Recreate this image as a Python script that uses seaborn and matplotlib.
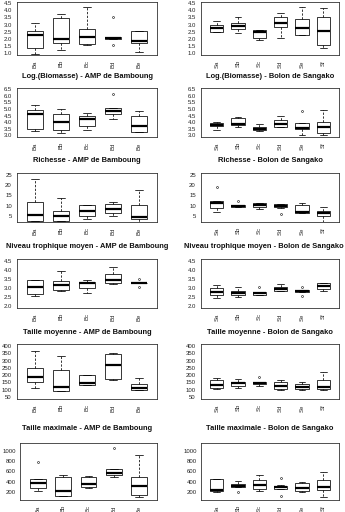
import matplotlib
matplotlib.use("Agg")
import matplotlib.pyplot as plt
import seaborn as sns
import pandas as pd
import numpy as np

sns.set_style("white")
plt.rcParams["font.family"] = ["Liberation Sans", "DejaVu Sans"]

groups_bamboung = ["Ba", "Bb", "Bc", "Bd", "Be"]
groups_sangako = ["Sa", "Sb", "Sc", "Sd", "Se", "Sf"]

# Five-number summaries per group: (low whisker, Q1, median, Q3, high whisker)
biomasse_bamboung = [[0.95, 1.38, 2.25, 2.55, 3.1], [1.25, 1.7, 2.0, 3.45, 3.75],
                     [1.55, 1.62, 2.15, 2.7, 4.2], [2.0, 2.02, 2.07, 2.12, 2.15],
                     [1.1, 1.7, 1.87, 2.55, 2.55]]
biomasse_bamboung_out = {"Bd": [1.6, 3.55]}
biomasse_sangako = [[2.5, 2.52, 2.75, 2.95, 3.25], [2.42, 2.7, 2.88, 3.12, 3.55],
                    [1.92, 2.08, 2.48, 2.6, 2.65], [2.05, 2.8, 3.1, 3.5, 3.8],
                    [2.25, 2.3, 2.78, 3.4, 4.2], [1.4, 1.6, 2.55, 3.5, 4.15]]
biomasse_sangako_out = {}

richesse_bamboung = [[3.3, 3.45, 4.6, 4.92, 5.3], [3.15, 3.4, 4.02, 4.62, 5.0],
                     [3.4, 3.7, 4.25, 4.45, 4.7], [4.22, 4.65, 4.85, 5.07, 5.07],
                     [3.25, 3.25, 3.7, 4.47, 4.82]]
richesse_bamboung_out = {"Bd": [6.15]}
richesse_sangako = [[3.42, 3.72, 3.8, 3.95, 4.02], [3.65, 3.78, 3.85, 4.35, 4.4],
                    [3.35, 3.42, 3.5, 3.67, 3.85], [3.65, 3.65, 3.87, 4.18, 4.45],
                    [3.0, 3.45, 3.6, 3.95, 3.95], [3.05, 3.15, 3.65, 4.03, 4.9]]
richesse_sangako_out = {"Se": [4.85]}

trophique_bamboung = [[2.5, 2.6, 5.5, 12.0, 23.0], [2.5, 2.6, 5.0, 7.3, 14.0],
                      [3.5, 5.2, 7.3, 10.5, 10.5], [5.0, 6.3, 8.5, 11.0, 12.0],
                      [1.8, 3.5, 4.5, 10.2, 17.5]]
trophique_bamboung_out = {}
trophique_sangako = [[7.0, 9.0, 11.2, 12.3, 12.3], [9.3, 9.4, 9.8, 10.4, 10.4],
                     [8.6, 9.2, 10.3, 11.3, 11.5], [9.0, 9.2, 10.0, 10.7, 10.7],
                     [6.3, 6.5, 7.2, 10.3, 11.2], [2.0, 5.0, 6.5, 7.3, 9.3]]
trophique_sangako_out = {"Sa": [19.0], "Sb": [12.3], "Sd": [6.0]}

tmoy_bamboung = [[2.58, 2.68, 3.08, 3.43, 3.47], [2.85, 2.87, 3.17, 3.4, 3.95],
                 [2.75, 3.0, 3.28, 3.32, 3.42], [3.22, 3.27, 3.42, 3.77, 4.15],
                 [3.3, 3.3, 3.3, 3.3, 3.3]]
tmoy_bamboung_out = {"Be": [3.05, 3.5]}
tmoy_sangako = [[2.45, 2.6, 2.78, 3.0, 3.15], [2.52, 2.6, 2.7, 2.83, 3.08],
                [2.6, 2.62, 2.7, 2.76, 2.8], [2.83, 2.83, 2.97, 3.08, 3.22],
                [2.8, 2.8, 2.85, 2.88, 2.88], [2.86, 2.92, 3.1, 3.27, 3.3]]
tmoy_sangako_out = {"Sc": [3.05], "Se": [2.56, 3.04]}

tmax_bamboung = [[110, 155, 185, 250, 365], [90, 92, 120, 235, 330],
                 [130, 133, 145, 200, 200], [170, 175, 270, 345, 350],
                 [95, 100, 115, 140, 183]]
tmax_bamboung_out = {}
tmax_sangako = [[105, 112, 135, 165, 180], [112, 125, 145, 155, 172],
                [128, 140, 145, 152, 155], [100, 102, 122, 152, 165],
                [100, 105, 120, 140, 155], [98, 105, 118, 170, 225]]
tmax_sangako_out = {"Sc": [190]}

last_bamboung = [[215, 280, 380, 450, 450], [115, 120, 210, 490, 530],
                 [280, 290, 350, 490, 500], [490, 530, 570, 650, 650],
                 [110, 140, 320, 490, 920]]
last_bamboung_out = {"Ba": [770], "Bd": [1050]}
last_sangako = [[200, 225, 245, 450, 450], [290, 295, 320, 350, 420],
                [210, 250, 340, 440, 530], [260, 265, 290, 320, 340],
                [200, 215, 270, 370, 390], [110, 240, 300, 430, 580]]
last_sangako_out = {"Sb": [195], "Sd": [120, 470]}

titles_bamboung = ["Log.(Biomasse) - AMP de Bamboung", "Richesse - AMP de Bamboung",
                   "Niveau trophique moyen - AMP de Bamboung", "Taille moyenne - AMP de Bamboung",
                   "Taille maximale - AMP de Bamboung", None]
titles_sangako = ["Log.(Biomasse) - Bolon de Sangako", "Richesse - Bolon de Sangako",
                  "Niveau trophique moyen - Bolon de Sangako", "Taille moyenne - Bolon de Sangako",
                  "Taille maximale - Bolon de Sangako", None]

yticks_rows = [np.arange(1.0, 4.51, 0.5), np.arange(3.0, 6.51, 0.5), [5, 10, 15, 20, 25],
               np.arange(2.0, 4.51, 0.5), np.arange(50, 401, 50), [200, 400, 600, 800, 1000]]
yfmt = ["%.1f", "%.1f", "%d", "%.1f", "%d", "%d"]
ylims = [(0.88, 4.58), (2.88, 6.6), (2.1, 25.9), (1.9, 4.6), (36, 414), (45, 1145)]


def build(groups, stats, outliers):
    rows = []
    for g, (lo, q1, med, q3, hi) in zip(groups, stats):
        sample = [lo, lo, q1, med, med, med, q3, hi, hi]
        for o in outliers.get(g, []):
            if o < q1:
                sample[0] = o
            else:
                sample[8] = o
        for v in sample:
            rows.append({"grp": g, "val": v})
    return pd.DataFrame(rows)


W, H = 345, 512
fig = plt.figure(figsize=(W / 100, H / 100), dpi=100)

row_px = [(2, 55), (88, 137), (173, 222), (259, 308), (344, 399), (443, 500)]
title_px = [77, 160, 247, 332, 428]
col_px = [(17, 157), (201, 339)]

panels = [
    (biomasse_bamboung, biomasse_bamboung_out, biomasse_sangako, biomasse_sangako_out),
    (richesse_bamboung, richesse_bamboung_out, richesse_sangako, richesse_sangako_out),
    (trophique_bamboung, trophique_bamboung_out, trophique_sangako, trophique_sangako_out),
    (tmoy_bamboung, tmoy_bamboung_out, tmoy_sangako, tmoy_sangako_out),
    (tmax_bamboung, tmax_bamboung_out, tmax_sangako, tmax_sangako_out),
    (last_bamboung, last_bamboung_out, last_sangako, last_sangako_out),
]

renderer = fig.canvas.get_renderer()

for r, (sb, ob, ss, os_) in enumerate(panels):
    top, bot = row_px[r]
    for c in range(2):
        x0, x1 = col_px[c]
        if r == 5 and c == 0:
            x0 = 20
        ax = fig.add_axes([x0 / W, 1 - bot / H, (x1 - x0) / W, (bot - top) / H])
        groups = groups_bamboung if c == 0 else groups_sangako
        df = build(groups, sb if c == 0 else ss, ob if c == 0 else os_)
        sns.boxplot(data=df, x="grp", y="val", ax=ax, order=groups, color="white",
                    linecolor="black", linewidth=0.55, width=0.62, fliersize=1.4,
                    whiskerprops={"linestyle": (0, (3, 2))},
                    medianprops={"linewidth": 1.6, "color": "black"},
                    flierprops={"marker": "o", "markerfacecolor": "none",
                                "markeredgecolor": "black", "markeredgewidth": 0.4})
        n = len(groups)
        ax.set_xlim(-0.5 - 0.04 * n, n - 0.5 + 0.04 * n)
        ax.set_ylim(*ylims[r])
        ax.set_yticks(yticks_rows[r])
        ax.set_yticklabels([yfmt[r] % v for v in yticks_rows[r]])
        ax.set_xlabel("")
        ax.set_ylabel("")
        for s in ax.spines.values():
            s.set_visible(True)
            s.set_color("#333333")
            s.set_linewidth(0.6)
        ax.tick_params(axis="both", which="both", direction="out", length=2.5, width=0.5,
                       labelsize=4.3, pad=1.2, colors="#222222")
        if r == 5:
            ax.tick_params(axis="y", length=2, pad=0.8)
        ax.tick_params(axis="x", labelrotation=90)
        ax.set_facecolor("white")
        title = (titles_bamboung if c == 0 else titles_sangako)[r]
        if title:
            t = fig.text((x0 + x1) / 2 / W, 1 - title_px[r] / H, title, ha="center",
                         va="center", fontsize=5.4, fontweight="bold", color="#111111")
            bb = t.get_window_extent(renderer=renderer)
            if bb.x1 > W - 1:
                t.set_x((W - 1 - bb.width / 2) / W)
            if bb.x0 < 1:
                t.set_x((1 + bb.width / 2) / W)

fig.savefig("out.png", dpi=100, facecolor="white")
